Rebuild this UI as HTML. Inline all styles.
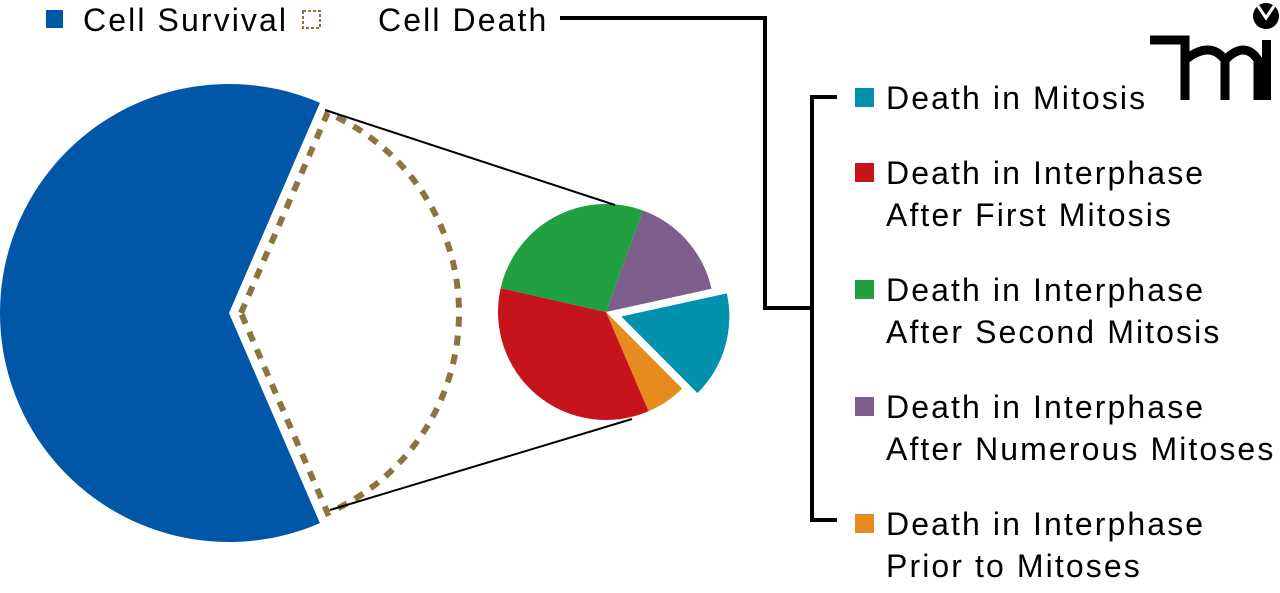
<!DOCTYPE html>
<html><head><meta charset="utf-8"><style>
body{margin:0;background:#fff;}
svg text{font-family:"Liberation Sans",Arial,sans-serif;letter-spacing:2.1px;}
</style></head><body>
<svg width="1280" height="588" viewBox="0 0 1280 588">
<g id="big"></g>
<g id="small"></g>
<line x1="325" y1="110" x2="615" y2="205" stroke="#000" stroke-width="2"/>
<line x1="330" y1="510" x2="632" y2="419" stroke="#000" stroke-width="2"/>
<g>
<rect x="46" y="10" width="17" height="18" fill="#0057a8"/>
<text x="83" y="31" font-size="32">Cell Survival</text>
<rect x="303" y="11" width="17" height="17" fill="none" stroke="#8a7540" stroke-width="2" stroke-dasharray="3 2"/>
<text x="378" y="31" font-size="32">Cell Death</text>
</g>
<path d="M560 18 H765 V308 H812 M837 97 H812 V520 H837" fill="none" stroke="#000" stroke-width="4"/>
<g id="legend"></g>
<g>
<path d="M1150 40 H1185 V100 M1185 60 Q1210 40 1225 60 V100 M1225 60 Q1245 40 1258 60 V100" fill="none" stroke="#000" stroke-width="9"/>
<rect x="1262" y="40" width="9" height="60" fill="#000"/>
<circle cx="1266" cy="16" r="13" fill="#000"/>
<path d="M1258 6 L1266 18 L1274 6" fill="none" stroke="#fff" stroke-width="3"/>
</g>
</svg>
<script>
const mainLabels=["Cell Survival","Cell Death"];
const mainValues=[63,37];
const deathLabels=["Death in Interphase After Numerous Mitoses","Death in Mitosis","Death in Interphase Prior to Mitoses","Death in Interphase After First Mitosis","Death in Interphase After Second Mitosis"];
const deathValues=[16,16,6,35,27];
const deathColors=["#7e5f8c","#0091ad","#e88b1f","#c6141c","#20a040"];
const legendOrder=[["Death in Mitosis"],["Death in Interphase","After First Mitosis"],["Death in Interphase","After Second Mitosis"],["Death in Interphase","After Numerous Mitoses"],["Death in Interphase","Prior to Mitoses"]];
const legendColorIdx=[1,3,4,0,2];
const NS="http://www.w3.org/2000/svg";
function arc(cx,cy,r,a0,a1){const t=Math.PI/180;const x0=cx+r*Math.cos(a0*t),y0=cy+r*Math.sin(a0*t),x1=cx+r*Math.cos(a1*t),y1=cy+r*Math.sin(a1*t);return `M${cx} ${cy} L${x0} ${y0} A${r} ${r} 0 ${(a1-a0)>180?1:0} 1 ${x1} ${y1} Z`;}
const big=document.getElementById('big');
const mt=mainValues[0]+mainValues[1];
const deathSpan=mainValues[1]/mt*360;
const dStart=-deathSpan/2,dEnd=deathSpan/2;
let p=document.createElementNS(NS,'path');
p.setAttribute('d',arc(229,313,229,dEnd,dStart+360));
p.setAttribute('fill','#0057a8');


big.appendChild(p);
p=document.createElementNS(NS,'path');
p.setAttribute('d',arc(241,313,218,dStart,dEnd));
p.setAttribute('fill','none');p.setAttribute('stroke','#8a7540');p.setAttribute('stroke-width','6');p.setAttribute('stroke-dasharray','10 9');


big.appendChild(p);
const small=document.getElementById('small');
const st=deathValues.reduce((a,b)=>a+b,0);
let a=-70;
deathValues.forEach((v,i)=>{const sp=v/st*360;let cx=606,cy=312;
 if(i===1){const m=(a+sp/2)*Math.PI/180;cx+=16*Math.cos(m);cy+=16*Math.sin(m);}
 const s=document.createElementNS(NS,'path');
 s.setAttribute('d',arc(cx,cy,108,a,a+sp));
 s.setAttribute('fill',deathColors[i]);
 
 
 small.appendChild(s);a+=sp;});
const lg=document.getElementById('legend');
const rowY=[97,172,289,406,523];
legendOrder.forEach((lines,i)=>{
 const r=document.createElementNS(NS,'rect');
 r.setAttribute('x',855);r.setAttribute('y',rowY[i]-9);r.setAttribute('width',19);r.setAttribute('height',19);
 r.setAttribute('fill',deathColors[legendColorIdx[i]]);
 
 
 lg.appendChild(r);
 lines.forEach((ln,j)=>{const t=document.createElementNS(NS,'text');
  t.setAttribute('x',886);t.setAttribute('y',rowY[i]+12+j*42);t.setAttribute('font-size','32');
  t.textContent=ln;
  
  
  lg.appendChild(t);});
});
</script>
</body></html>
